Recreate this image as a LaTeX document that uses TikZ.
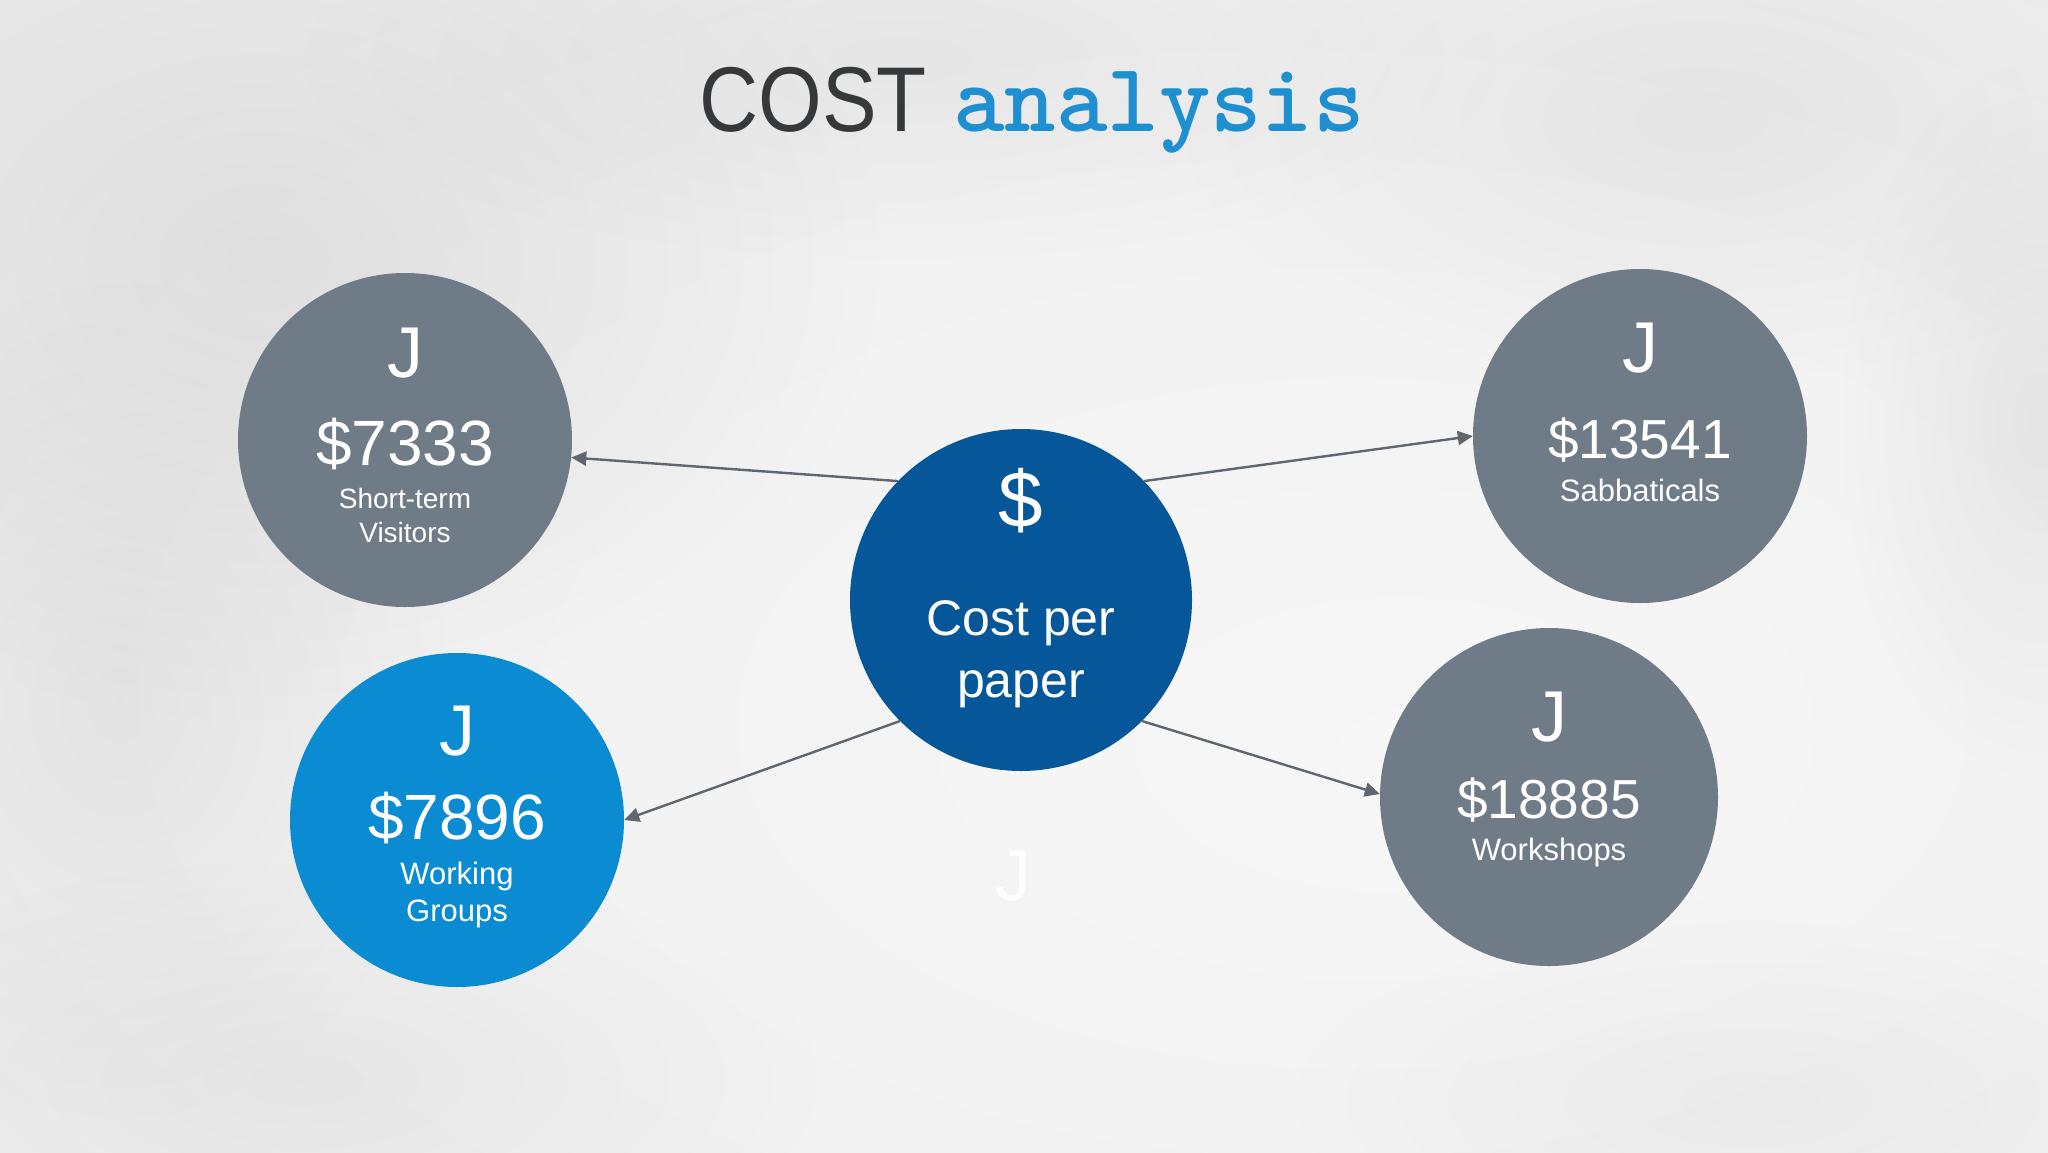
\documentclass[tikz,border=0pt]{standalone}
\usepackage{fontspec}
\setmainfont{Liberation Sans}
\newfontfamily\titlemono{lmmonolt10-bold.otf}
\usetikzlibrary{arrows.meta,calc,fadings}
\definecolor{bgin}{HTML}{F7F7F7}
\definecolor{bgmid}{HTML}{F0F0F0}
\definecolor{bgout}{HTML}{E2E2E2}
\definecolor{cloud}{HTML}{B8B8B8}
\definecolor{slate}{HTML}{6F7B87}
\definecolor{navyb}{HTML}{06579A}
\definecolor{skyb}{HTML}{0A8BD2}
\definecolor{titledark}{HTML}{36383A}
\definecolor{titleblue}{HTML}{1E8FD0}
\definecolor{arrowgray}{HTML}{60666D}
\pgfdeclareradialshading{bgshade}{\pgfpoint{10bp}{-8bp}}{color(0bp)=(bgin); color(30bp)=(bgmid); color(75bp)=(bgout)}
\tikzfading[name=softblob, inner color=transparent!0, outer color=transparent!100]
\tikzset{
  circ/.style={circle, inner sep=0pt, minimum size=334pt, draw=none},
  lbl/.style={text=white, anchor=base, inner sep=0pt, align=center},
  jbig/.style={lbl, font=\fontsize{72}{72}\selectfont},
  amtfour/.style={lbl, font=\fontsize{64}{64}\selectfont},
  amtfive/.style={lbl, font=\fontsize{55}{55}\selectfont},
  capsmall/.style={lbl, font=\fontsize{28}{28}\selectfont},
  capmid/.style={lbl, font=\fontsize{31}{31}\selectfont},
  blob/.style={fill=cloud, path fading=softblob},
  conn/.style={draw=arrowgray, line width=2.4pt, -{Triangle[length=15pt,width=14pt]}}
}
\begin{document}
\begin{tikzpicture}[x=1pt,y=-1pt]
\useasboundingbox (0,0) rectangle (2048,1152);
\shade[shading=bgshade] (0,0) rectangle (2048,1152);
% cloudy texture
\fill[blob, opacity=0.30] (260,260) ellipse (620 and 460);
\fill[blob, opacity=0.22] (120,700) ellipse (330 and 420);
\fill[blob, opacity=0.18] (900,60) ellipse (600 and 200);
\fill[blob, opacity=0.20] (1700,120) ellipse (520 and 260);
\fill[blob, opacity=0.22] (2040,420) ellipse (200 and 360);
\fill[blob, opacity=0.18] (300,1080) ellipse (520 and 220);
\fill[blob, opacity=0.14] (1750,1100) ellipse (460 and 180);

% title
\node[anchor=base west, inner sep=0pt, text=titledark, font=\fontsize{92}{92}\selectfont] (tcost) at (699,131) {\scalebox{0.89}[1]{COST}};
\node[anchor=base west, inner sep=0pt, text=titleblue, font=\titlemono\fontsize{98}{98}\selectfont] (tana) at (953,131) {analysis};

% circles
\node[circ, fill=slate] (st) at (405,440) {};
\node[circ, fill=slate] (sab) at (1640,436) {};
\node[circ, fill=skyb] (wg) at (457,820) {};
\node[circ, fill=slate, minimum size=338pt] (ws) at (1549,797) {};
\node[circ, fill=navyb, minimum size=342pt] (cpp) at (1021,600) {};

% connectors
\draw[conn] (cpp.136) -- (st.-6);
\draw[conn] (cpp.44) -- (sab.180);
\draw[conn] (cpp.225) -- (wg.0);
\draw[conn] (cpp.-45) -- (ws.179);

% short-term visitors
\node[jbig] (stj) at ($(st)+(0,-63)$) {J};
\node[amtfour] (sta) at ($(st)+(0,25)$) {\$7333};
\node[capsmall] (stl1) at ($(st)+(0,68)$) {Short-term};
\node[capsmall] (stl2) at ($(st)+(0,102)$) {Visitors};

% sabbaticals
\node[jbig] (sabj) at ($(sab)+(0,-64)$) {J};
\node[amtfive] (saba) at ($(sab)+(0,22)$) {\$13541};
\node[capmid] (sabl) at ($(sab)+(0,65)$) {Sabbaticals};

% working groups
\node[jbig] (wgj) at ($(wg)+(0,-65)$) {J};
\node[amtfour] (wga) at ($(wg)+(0,19)$) {\$7896};
\node[capmid] (wgl1) at ($(wg)+(0,64)$) {Working};
\node[capmid] (wgl2) at ($(wg)+(0,101)$) {Groups};

% workshops
\node[jbig] (wsj) at ($(ws)+(0,-56)$) {J};
\node[amtfive] (wsa) at ($(ws)+(0,21)$) {\$18885};
\node[capmid] (wsl) at ($(ws)+(0,63)$) {Workshops};

% centre
\node[lbl, font=\fontsize{80}{80}\selectfont] (cppd) at ($(cpp)+(0,-73)$) {\$};
\node[lbl, font=\fontsize{50}{50}\selectfont] (cppl1) at ($(cpp)+(0,35)$) {Cost per};
\node[lbl, font=\fontsize{50}{50}\selectfont] (cppl2) at ($(cpp)+(0,97)$) {paper};

% faint J
\node[lbl, text=white, opacity=0.85, font=\fontsize{72}{72}\selectfont] (faintj) at (1013,900) {J};
\end{tikzpicture}
\end{document}
